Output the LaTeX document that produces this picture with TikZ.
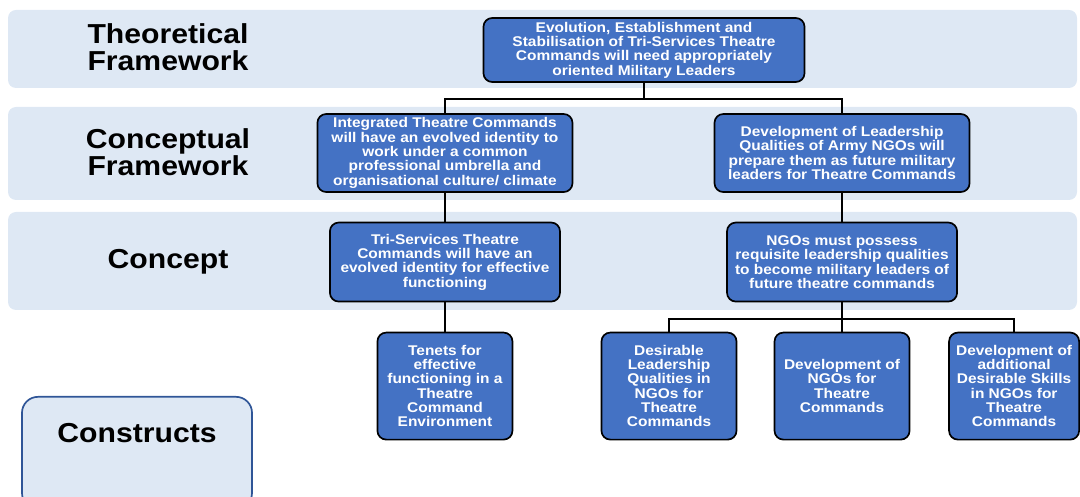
\documentclass[tikz,border=0pt]{standalone}
\usepackage{fontspec}
\setmainfont{Liberation Sans}[FakeStretch=1.1]
\usetikzlibrary{positioning, calc}
\definecolor{bandblue}{RGB}{222,232,244}
\definecolor{boxblue}{RGB}{68,114,196}
\definecolor{edgeblue}{RGB}{47,85,151}

\begin{document}
\begin{tikzpicture}[x=0.025cm, y=-0.025cm, node distance=2.5cm, on grid,
  band/.style={fill=bandblue, rounded corners=0.2cm},
  level/.style={font=\bfseries\fontsize{19.5}{19.5}\selectfont, align=center},
  idea/.style={draw=black, line width=1.2pt, fill=boxblue, rounded corners=0.22cm,
    text=white, align=center, inner sep=1pt,
    font=\bfseries\fontsize{10}{10.2}\selectfont},
  wide/.style={idea, minimum width=8.025cm, minimum height=1.6cm},
  mid/.style={idea, minimum width=6.375cm, minimum height=1.95cm},
  narrow/.style={idea, minimum width=5.75cm, minimum height=1.975cm},
  tall/.style={idea, minimum width=3.375cm, minimum height=2.675cm},
  constr/.style={draw=edgeblue, line width=1.2pt, fill=bandblue, rounded corners=0.4cm,
    minimum width=5.75cm, minimum height=2.8cm, anchor=north},
  link/.style={line width=1.4pt}]

  \clip (0,0) rectangle (1080,497);

  \fill[band] (8,10) rectangle (1077,88);
  \fill[band] (8,107) rectangle (1077,200);
  \fill[band] (8,212) rectangle (1077,310);

  \node[level] (theory) at (168,47) {Theoretical\\Framework};
  \node[level] (concframe) at (168,152) {Conceptual\\Framework};
  \node[level] (concept) at (168,262) {Concept};

  \node[constr] (constructs) at (137,396) {};
  \node[level] (constructslabel) at ($(constructs.north)+(0,37)$) {Constructs};

  \node[wide] (top) at (644,50) {Evolution, Establishment and\\Stabilisation of Tri-Services Theatre\\Commands will need appropriately\\oriented Military Leaders};
  \node[mid] (ccl) [below left=2.575cm and 4.975cm of top] {Integrated Theatre Commands\\will have an evolved identity to\\work under a common\\professional umbrella and\\organisational culture/ climate};
  \node[mid] (ccr) [below right=2.575cm and 4.95cm of top] {Development of Leadership\\Qualities of Army NGOs will\\prepare them as future military\\leaders for Theatre Commands};
  \node[narrow] (cpl) [below=2.725cm of ccl] {Tri-Services Theatre\\Commands will have an\\evolved identity for effective\\functioning};
  \node[narrow] (cpr) [below=2.725cm of ccr] {NGOs must possess\\requisite leadership qualities\\to become military leaders of\\future theatre commands};
  \node[tall] (tenets) [below=3.1cm of cpl] {Tenets for\\effective\\functioning in a\\Theatre\\Command\\Environment};
  \node[tall] (ngodev) [below=3.1cm of cpr] {Development of\\NGOs for\\Theatre\\Commands};
  \node[tall] (quals) [left=4.325cm of ngodev] {Desirable\\Leadership\\Qualities in\\NGOs for\\Theatre\\Commands};
  \node[tall, minimum width=3.25cm] (skills) [right=4.3cm of ngodev] {Development of\\additional\\Desirable Skills\\in NGOs for\\Theatre\\Commands};

  \coordinate (split1) at ($(top.south)+(0,16)$);
  \coordinate (split2) at ($(cpr.south)+(0,17)$);

  \draw[link] (top.south) -- (split1) -| (ccl.north);
  \draw[link] (split1) -| (ccr.north);
  \draw[link] (ccl) -- (cpl);
  \draw[link] (ccr) -- (cpr);
  \draw[link] (cpl) -- (tenets);
  \draw[link] (cpr.south) -- (split2) -| (quals.north);
  \draw[link] (split2) -| (skills.north);
  \draw[link] (split2) -- (ngodev.north);
\end{tikzpicture}
\end{document}
